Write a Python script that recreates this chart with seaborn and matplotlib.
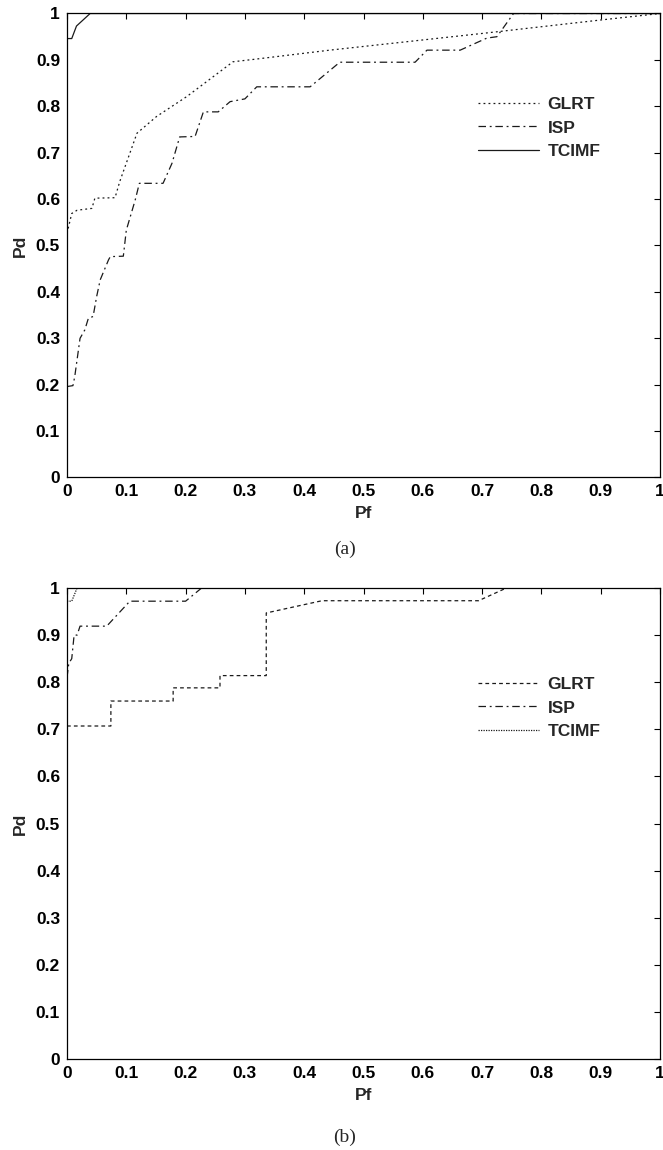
import numpy as np
import pandas as pd
import matplotlib
matplotlib.use("Agg")
import matplotlib.pyplot as plt
import seaborn as sns
from matplotlib.lines import Line2D

# ---------------- data ----------------
series_names = ["GLRT", "ISP", "TCIMF"]
tick_values = [0, 0.1, 0.2, 0.3, 0.4, 0.5, 0.6, 0.7, 0.8, 0.9, 1]
tick_labels = ["0", "0.1", "0.2", "0.3", "0.4", "0.5", "0.6", "0.7", "0.8", "0.9", "1"]

# panel (a)
a_glrt_pf = [0.0, 0.008, 0.017, 0.042, 0.047, 0.081, 0.089, 0.118, 0.151, 0.202, 0.28, 0.314, 0.443, 0.70, 0.90, 1.0]
a_glrt_pd = [0.526, 0.569, 0.576, 0.58, 0.602, 0.603, 0.638, 0.742, 0.778, 0.821, 0.896, 0.901, 0.921, 0.957, 0.986, 1.0]

a_isp_pf = [0.0, 0.01, 0.013, 0.022, 0.030, 0.036, 0.044, 0.05, 0.056, 0.07, 0.073, 0.095, 0.10, 0.115, 0.122,
            0.162, 0.177, 0.19, 0.216, 0.23, 0.255, 0.275, 0.30, 0.32, 0.41, 0.46, 0.587, 0.607, 0.663,
            0.708, 0.725, 0.753, 1.0]
a_isp_pd = [0.196, 0.198, 0.217, 0.30, 0.318, 0.343, 0.347, 0.39, 0.426, 0.469, 0.476, 0.477, 0.533, 0.598, 0.634,
            0.634, 0.677, 0.734, 0.735, 0.788, 0.788, 0.81, 0.816, 0.842, 0.842, 0.895, 0.895, 0.921, 0.921,
            0.947, 0.95, 1.0, 1.0]

a_tcimf_pf = [0.0, 0.008, 0.016, 0.039, 1.0]
a_tcimf_pd = [0.946, 0.946, 0.973, 1.0, 1.0]

# panel (b)
b_glrt_pf = [0.0, 0.074, 0.074, 0.179, 0.179, 0.258, 0.258, 0.336, 0.336, 0.43, 0.694, 0.741, 1.0]
b_glrt_pd = [0.707, 0.707, 0.76, 0.76, 0.788, 0.788, 0.814, 0.814, 0.947, 0.973, 0.973, 1.0, 1.0]

b_isp_pf = [0.0, 0.003, 0.008, 0.012, 0.017, 0.022, 0.067, 0.106, 0.20, 0.227, 1.0]
b_isp_pd = [0.81, 0.84, 0.85, 0.90, 0.90, 0.919, 0.919, 0.972, 0.972, 1.0, 1.0]

b_tcimf_pf = [0.0, 0.008, 0.017, 1.0]
b_tcimf_pd = [0.972, 0.972, 1.0, 1.0]

# ---------------- style ----------------
sns.set_theme(style="white")
plt.rcParams["font.family"] = ["Liberation Sans", "DejaVu Sans"]

W, H = 663, 1150
fig = plt.figure(figsize=(W / 100, H / 100), dpi=100)

def frac_axes(x0, x1, ytop, ybot):
    return [x0 / W, 1 - ybot / H, (x1 - x0) / W, (ybot - ytop) / H]

ax_a = fig.add_axes(frac_axes(67, 660, 13.5, 477.5))
ax_b = fig.add_axes(frac_axes(67, 660, 588, 1059))

line_col = "#1a1a1a"
styles_a = {"GLRT": (0, (1.5, 2.5)), "ISP": (0, (6, 3, 1.5, 3)), "TCIMF": "-"}
styles_b = {"GLRT": (0, (3, 2.5)), "ISP": (0, (6, 3, 1.5, 3)), "TCIMF": (0, (1, 1))}

panel_a = {"GLRT": (a_glrt_pf, a_glrt_pd), "ISP": (a_isp_pf, a_isp_pd), "TCIMF": (a_tcimf_pf, a_tcimf_pd)}
panel_b = {"GLRT": (b_glrt_pf, b_glrt_pd), "ISP": (b_isp_pf, b_isp_pd), "TCIMF": (b_tcimf_pf, b_tcimf_pd)}

def draw_panel(ax, panel, styles, label_text, label_y, leg_y):
    handles = []
    for name in series_names:
        pf, pd_ = panel[name]
        df = pd.DataFrame({"Pf": pf, "Pd": pd_})
        sns.lineplot(data=df, x="Pf", y="Pd", ax=ax, estimator=None, sort=False,
                     color=line_col, linewidth=0.9, linestyle=styles[name], legend=False)
        handles.append(Line2D([0], [0], color=line_col, linewidth=0.9, linestyle=styles[name]))
    ax.set_xlim(0, 1)
    ax.set_ylim(0, 1)
    ax.set_xticks(tick_values)
    ax.set_xticklabels(tick_labels)
    ax.set_yticks(tick_values)
    ax.set_yticklabels(tick_labels)
    ax.tick_params(direction="in", length=4, width=0.8, top=True, right=True,
                   labelsize=12.5, pad=5, colors="black")
    for lab in ax.get_xticklabels() + ax.get_yticklabels():
        lab.set_fontweight("bold")
    for sp in ax.spines.values():
        sp.set_visible(True)
        sp.set_color("black")
        sp.set_linewidth(0.9)
    ax.set_xlabel("Pf", fontsize=12.5, fontweight="bold", labelpad=5)
    ax.set_ylabel("Pd", fontsize=12.5, fontweight="bold", labelpad=6)
    ax.set_facecolor("white")
    ax.legend(handles, series_names, loc="upper left", bbox_to_anchor=(0.693, leg_y),
              frameon=False, prop={"weight": "bold", "size": 12.5},
              handlelength=3.5, handletextpad=0.5, labelspacing=0.5,
              borderpad=0, borderaxespad=0)
    fig.text(345 / W, 1 - label_y / H, label_text, ha="center", va="center",
             fontsize=14, family=["Liberation Serif", "DejaVu Serif"])

draw_panel(ax_a, panel_a, styles_a, "(a)", 549, 0.821)
draw_panel(ax_b, panel_b, styles_b, "(b)", 1137, 0.812)

fig.savefig("out.png", dpi=100, facecolor="white")
